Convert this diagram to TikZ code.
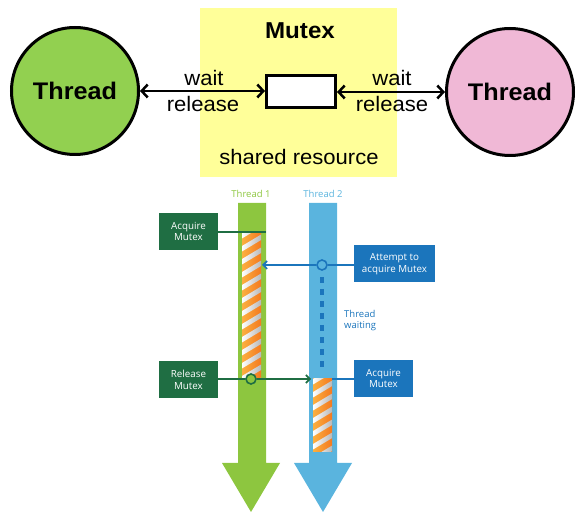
\documentclass[tikz,border=0pt]{standalone}
\usepackage{fontspec}
\setmainfont[FakeStretch=1.05]{Liberation Sans}
\newfontfamily\uifont{Open Sans}
\usetikzlibrary{arrows.meta}

\definecolor{resyellow}{HTML}{FFFF99}
\definecolor{thrgreen}{HTML}{92D050}
\definecolor{thrpink}{HTML}{F0B8D6}
\definecolor{lanegreen}{HTML}{8DC63F}
\definecolor{laneblue}{HTML}{5AB4DE}
\definecolor{boxgreen}{HTML}{1F6E43}
\definecolor{boxblue}{HTML}{1B75BC}
\definecolor{orlight}{HTML}{FBB040}
\definecolor{ordark}{HTML}{F47920}

\tikzset{
  threadcircle/.style={circle, draw=black, line width=3pt, minimum size=127pt,
    inner sep=0pt, font=\bfseries\fontsize{24}{26}\selectfont},
  toplabel/.style={font=\fontsize{21}{23}\selectfont, inner sep=0pt},
  waitarrow/.style={line width=2.5pt, {Straight Barb[length=6pt,width=13pt]}-{Straight Barb[length=6pt,width=13pt]}},
  lanelabel/.style={font=\uifont\fontsize{9.5}{11}\selectfont, inner sep=0pt},
  evbox/.style={minimum width=59pt, minimum height=37pt, inner sep=1pt, align=center,
    text=white, font=\uifont\fontsize{9.8}{11.5}\selectfont},
  greenbox/.style={evbox, fill=boxgreen},
  bluebox/.style={evbox, fill=boxblue},
  event/.style={circle, line width=1.6pt, minimum size=10pt, inner sep=0pt},
}

% striped "lock held" section inside a lane
\newcommand{\lockbar}[4]{%
  \begin{scope}
    \clip (#1,#2) rectangle (#3,#4);
    \shade[left color=orlight, right color=ordark] (#1,#2) rectangle (#3,#4);
    \pgfmathsetmacro{\rise}{0.6*(#3-#1)}
    \foreach \k in {-26,-13,...,182}{
      \shade[left color=white, right color=black!28]
        (#1,#2+\k) -- (#3,#2+\k-\rise) -- (#3,#2+\k-\rise+5.5) -- (#1,#2+\k+5.5) -- cycle;
    }
  \end{scope}}

\begin{document}
\begin{tikzpicture}[x=1pt,y=-1pt]
\useasboundingbox (0,0) rectangle (582,513);

% ---------- mutex as shared resource ----------
\fill[resyellow] (200,8) rectangle (397,177);
\node[font=\bfseries\fontsize{23}{25}\selectfont, inner sep=0pt] (mtitle) at (300,31) {Mutex};
\node[toplabel] (shared) at (299,157) {shared resource};
\node[draw=black, fill=white, line width=3pt, minimum width=69pt, minimum height=32pt, inner sep=0pt] (mx) at (301,91.5) {};

\node[threadcircle, fill=thrgreen] (t1) at (75,91) {Thread};
\node[threadcircle, fill=thrpink] (t2) at (510,92) {Thread};

\draw[waitarrow] (t1) -- (mx.west |- t1);
\draw[waitarrow] (mx.east |- t2) -- (t2);

\node[toplabel] (w1) at (204,78) {wait};
\node[toplabel] (r1) at (203,104) {release};
\node[toplabel] (w2) at (392,78) {wait};
\node[toplabel] (r2) at (392,104) {release};

% ---------- timeline of two threads ----------
\node[lanelabel, text=lanegreen] (l1) at (251,194) {Thread 1};
\node[lanelabel, text=laneblue] (l2) at (323,194) {Thread 2};

\fill[lanegreen] (238,203) -- (266,203) -- (266,463) -- (280,463) -- (251,512)
  -- (222,463) -- (238,463) -- cycle;
\fill[laneblue] (309,203) -- (337,203) -- (337,463) -- (352,463) -- (323,512)
  -- (294,463) -- (309,463) -- cycle;

\lockbar{242}{233}{261}{378}
\lockbar{313}{379}{332}{452}

% thread 2 waiting
\draw[boxblue, line width=3.5pt, dash pattern=on 6pt off 6pt] (322,277) -- (322,372);
\node[lanelabel, text=boxblue, align=left, anchor=west] (tw) at (344,321) {Thread\\waiting};

% event boxes
\node[greenbox] (acq1) at (188.5,231.5) {Acquire\\Mutex};
\node[greenbox] (rel1) at (188.5,380) {Release\\Mutex};
\node[bluebox, minimum width=81pt] (try2) at (394.5,264) {Attempt to\\acquire Mutex};
\node[bluebox] (acq2) at (383.5,378.5) {Acquire\\Mutex};

\coordinate (acq1end) at (266,232);
\draw[boxgreen, line width=1.6pt] (acq1.east |- acq1end) -- (acq1end);

\node[event, draw=boxblue, fill=laneblue] (ev2) at (322,265) {};
\coordinate (blocked) at (262,265);
\draw[boxblue, line width=1.6pt] (try2.west |- ev2) -- (ev2);
\draw[boxblue, line width=1.6pt, -{Straight Barb[length=4pt,width=8pt]}] (ev2) -- (blocked);

\node[event, draw=boxgreen, fill=lanegreen] (ev1) at (251,379) {};
\coordinate (wake) at (311,379);
\draw[boxgreen, line width=1.6pt] (rel1.east |- ev1) -- (ev1);
\draw[boxgreen, line width=1.6pt, -{Straight Barb[length=4pt,width=8pt]}] (ev1) -- (wake);

\coordinate (acq2end) at (332,379);
\draw[boxblue, line width=1.6pt] (acq2.west |- acq2end) -- (acq2end);
\end{tikzpicture}
\end{document}
